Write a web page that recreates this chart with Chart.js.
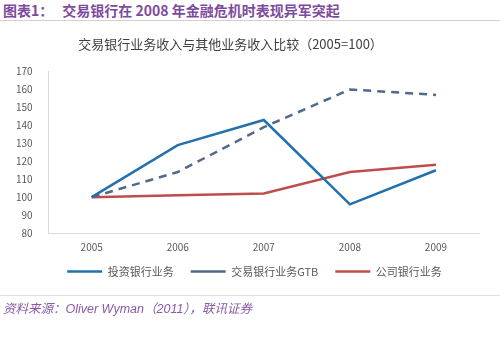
<!DOCTYPE html>
<html>
<head>
<meta charset="utf-8">
<script src="https://cdn.jsdelivr.net/npm/chart.js@4"></script>
<style>
  body { margin: 0; background: #fff; font-family: "Noto Sans CJK SC", sans-serif; }
  #page { position: relative; width: 500px; height: 340px; overflow: hidden; }
  #head { position: absolute; left: 3px; top: 0px; font-size: 14px; font-weight: bold; color: #7e4a9e; white-space: nowrap; }
  #head span { margin-left: 9px; }
  #rule1 { position: absolute; left: 0; top: 20px; width: 500px; height: 1px; background: #d0d0d0; }
  #box { position: absolute; left: 0; top: 25px; width: 500px; height: 272px; }
  #rule2 { position: absolute; left: 0; top: 295px; width: 500px; height: 1px; background: #e0e0e0; }
  #foot { position: absolute; left: 3px; top: 298px; font-size: 12.5px; font-style: italic; color: #8a5aa8; white-space: nowrap;
          font-family: "Liberation Sans", "Noto Sans CJK SC", sans-serif; }
</style>
</head>
<body>
<div id="page">
  <div id="head">图表1：<span>交易银行在 2008 年金融危机时表现异军突起</span></div>
  <div id="rule1"></div>
  <div id="box"><canvas id="revenueChart"></canvas></div>
  <div id="rule2"></div>
  <div id="foot">资料来源：Oliver Wyman（2011），联讯证券</div>
</div>
<script>
const years = ['2005', '2006', '2007', '2008', '2009'];
const investBank = [100, 129, 143, 96, 115];
const transBank = [100, 114, 139, 160, 157];
const corpBank = [100, 101, 102, 114, 118];

const font = '"Noto Sans CJK SC", sans-serif';

// nudge title and legend to where the original sits
const nudge = {
    id: 'nudge',
    afterLayout(chart) {
        chart.titleBlock.left -= 13;
        chart.titleBlock.right -= 13;
        chart.legend.top -= 4;
        chart.legend.bottom -= 4;
        chart.legend.left += 11;
        chart.legend.right += 11;
    }
};

const ctx = document.getElementById('revenueChart').getContext('2d');
new Chart(ctx, {
    type: 'line',
    data: {
        labels: years,
        datasets: [{
            label: '投资银行业务',
            data: investBank,
            borderColor: '#2270ad',
            borderWidth: 2.5,
            pointRadius: 0,
            tension: 0
        }, {
            label: '交易银行业务GTB',
            data: transBank,
            borderColor: '#51698a',
            borderWidth: 2.5,
            borderDash: [8, 6],
            pointRadius: 0,
            tension: 0
        }, {
            label: '公司银行业务',
            data: corpBank,
            borderColor: '#bf4d4b',
            borderWidth: 2.5,
            pointRadius: 0,
            tension: 0
        }]
    },
    options: {
        responsive: true,
        maintainAspectRatio: false,
        animation: false,
        layout: { padding: { left: 8, right: 21, top: 9, bottom: 6 } },
        plugins: {
            title: {
                display: true,
                text: '交易银行业务收入与其他业务收入比较（2005=100）',
                color: '#404040',
                font: { family: font, size: 13, weight: 'normal' },
                padding: { top: 2, bottom: 20 }
            },
            legend: {
                position: 'bottom',
                labels: {
                    usePointStyle: true,
                    pointStyle: 'line',
                    pointStyleWidth: 35,
                    color: '#595959',
                    font: { family: font, size: 11 },
                    padding: 17
                }
            },
            tooltip: { enabled: false }
        },
        scales: {
            x: {
                offset: true,
                grid: { display: false },
                border: { color: '#d9d9d9' },
                ticks: { color: '#595959', font: { family: font, size: 10 }, padding: 0 }
            },
            y: {
                min: 80,
                max: 170,
                ticks: { stepSize: 10, color: '#595959', font: { family: font, size: 10 }, padding: 8 },
                grid: { display: false },
                border: { color: '#d9d9d9' }
            }
        }
    },
    plugins: [nudge]
});
</script>
</body>
</html>
